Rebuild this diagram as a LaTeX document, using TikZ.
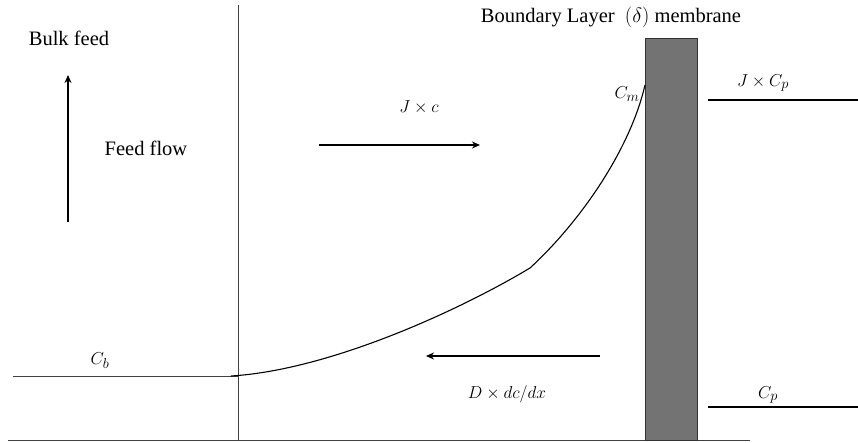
\documentclass[tikz,border=0pt]{standalone}
\usepackage{fontspec}
\setmainfont{Liberation Serif}
\usetikzlibrary{arrows.meta}
\begin{document}
\begin{tikzpicture}[x=1pt,y=-1pt,
  lbl/.style={inner sep=0pt, font=\fontsize{20.5}{24}\selectfont},
  mlbl/.style={inner sep=0pt, font=\fontsize{19}{22}\selectfont},
  thinline/.style={draw=black!75, line width=0.9pt},
  thickline/.style={draw=black, line width=1.8pt},
  flowarrow/.style={draw=black, line width=2pt, -{Stealth[length=8pt,width=7pt]}}]
\useasboundingbox (0,0) rectangle (858,443);
% frame lines
\draw[thinline] (238,5) -- (238,440);
\draw[thinline] (8,440) -- (750,440);
\draw[thinline] (13,376) -- (238,376);
% membrane
\node[draw=black!80, fill=black!55, line width=0.9pt, minimum width=52pt, minimum height=402pt, inner sep=0pt, anchor=north west] (mem) at (645,38) {};
% permeate lines
\draw[thickline] (708,100) -- (858,100);
\draw[thickline] (708,407) -- (858,407);
% concentration profile
\coordinate (cb) at (231,376);
\coordinate (mid) at (530,268);
\coordinate (cm) at (645,85);
\draw[black, line width=1.1pt] (cb) .. controls (330,370) and (460,310) .. (mid)
  .. controls (580,222) and (630,150) .. (cm);
% arrows
\coordinate (ff1) at (68,222); \coordinate (ff2) at (68,75);
\draw[flowarrow] (ff1) -- (ff2);
\coordinate (j1) at (319,145); \coordinate (j2) at (480,145);
\draw[flowarrow] (j1) -- (j2);
\coordinate (d1) at (600,356); \coordinate (d2) at (426,356);
\draw[flowarrow] (d1) -- (d2);
% labels
\node[lbl] (bulk) at (69,38) {Bulk feed};
\node[lbl] (feed) at (146,148) {Feed flow};
\node[lbl] (bl) at (611,17) {Boundary Layer\ \ $(\delta)$ membrane};
\node[mlbl] (jc) at (419,107) {$J\times c$};
\node[mlbl] (jcp) at (763,83) {$J\times C_p$};
\node[mlbl] (cmlbl) at (627,94) {$C_m$};
\node[mlbl] (cblbl) at (100,361) {$C_b$};
\node[mlbl] (dlbl) at (507,394) {$D\times dc/dx$};
\node[mlbl] (cplbl) at (768,395) {$C_p$};
\end{tikzpicture}
\end{document}
